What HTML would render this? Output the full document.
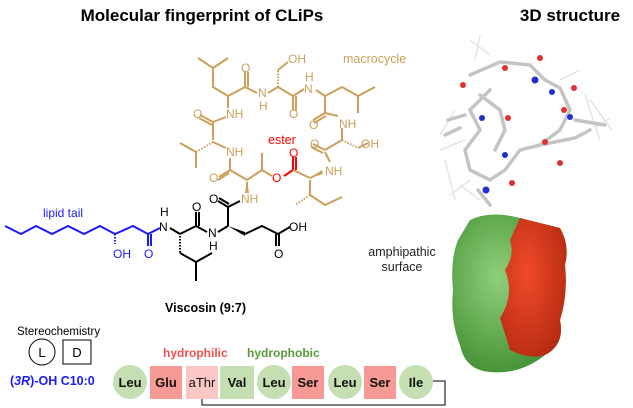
<!DOCTYPE html>
<html><head><meta charset="utf-8"><style>
html,body{margin:0;padding:0;background:#fff;}
svg{display:block;font-family:"Liberation Sans",Arial,sans-serif;}
</style></head><body>
<svg width="633" height="408" viewBox="0 0 633 408">
<defs>
<radialGradient id="g1" cx="40%" cy="40%" r="70%"><stop offset="0" stop-color="#8fd07a"/><stop offset="1" stop-color="#3d8a2e"/></radialGradient>
<radialGradient id="r1" cx="40%" cy="40%" r="70%"><stop offset="0" stop-color="#f04a2a"/><stop offset="1" stop-color="#b42a10"/></radialGradient>
</defs>
<text x="202" y="21" text-anchor="middle" font-size="17" font-weight="bold">Molecular fingerprint of CLiPs</text>
<text x="570" y="21" text-anchor="middle" font-size="17" font-weight="bold">3D structure</text>

<!-- lipid tail blue -->
<g stroke="#1a1aff" stroke-width="2" fill="none">
<polyline points="5,226 21,234 36,226 52,234 68,226 84,234 100,226 115,234 133,226 148,234 160,228"/>
<line x1="148" y1="234" x2="148" y2="246"/><line x1="151" y1="234" x2="151" y2="246"/>
<line x1="115" y1="234" x2="115" y2="244" stroke-dasharray="1.5,1.5"/>
</g>
<g fill="#1a1aff" font-size="12"><text x="113" y="258">OH</text><text x="144" y="258">O</text><text x="43" y="217">lipid tail</text></g>

<!-- black part -->
<g stroke="#000" stroke-width="2" fill="none">
<line x1="170" y1="228" x2="180" y2="234"/>
<line x1="180" y1="234" x2="196" y2="226"/>
<line x1="196" y1="226" x2="196" y2="212"/><line x1="199" y1="226" x2="199" y2="212"/>
<line x1="196" y1="226" x2="207" y2="232"/>
<line x1="180" y1="236" x2="180" y2="253" stroke-dasharray="1.5,1.5"/>
<polyline points="180,253 196,262 212,253"/><line x1="196" y1="262" x2="196" y2="281"/>
<line x1="218" y1="232" x2="228" y2="226"/>
<line x1="228" y1="226" x2="228" y2="207"/>
<line x1="228" y1="207" x2="218" y2="201"/><line x1="229" y1="204" x2="219" y2="198"/>
<line x1="228" y1="207" x2="240" y2="201"/>
<polyline points="245,234 262,226 278,234 290,227"/>
<line x1="276" y1="234" x2="276" y2="246"/><line x1="279" y1="234" x2="279" y2="246"/>
</g>
<polygon points="228,226 245,232 245,236" fill="#000"/>
<g font-size="12" fill="#000"><text x="160" y="216">H</text><text x="159" y="231">N</text>
<text x="192" y="211">O</text><text x="208" y="237">N</text><text x="209" y="250">H</text>
<text x="209" y="203">O</text><text x="289" y="231">OH</text><text x="274" y="258">O</text></g>

<!-- macrocycle tan -->
<g stroke="#cc9f5a" stroke-width="2" fill="none">
<line x1="247" y1="193" x2="247" y2="182"/>
<line x1="247" y1="180" x2="230" y2="170"/>
<line x1="230" y1="170" x2="219" y2="177"/><line x1="229" y1="173" x2="218" y2="180"/>
<line x1="230" y1="170" x2="230" y2="158"/>
<line x1="247" y1="180" x2="262" y2="170"/>
<line x1="262" y1="170" x2="262" y2="153"/>
<line x1="262" y1="170" x2="272" y2="176"/>
<line x1="310" y1="178" x2="322" y2="172"/>
<line x1="310" y1="180" x2="310" y2="195"/>
<line x1="310" y1="195" x2="295" y2="205" stroke-dasharray="1.5,1.5"/>
<polyline points="310,195 325,205 342,197"/>
<line x1="330" y1="162" x2="325" y2="152"/>
<line x1="325" y1="150" x2="313" y2="144"/><line x1="323" y1="153" x2="311" y2="147"/>
<line x1="325" y1="150" x2="342" y2="140"/>
<line x1="342" y1="140" x2="358" y2="148" stroke-dasharray="1.5,1.5"/>
<line x1="358" y1="148" x2="368" y2="143"/>
<line x1="342" y1="140" x2="342" y2="128"/>
<line x1="338" y1="116" x2="325" y2="113"/>
<line x1="325" y1="113" x2="313" y2="120"/><line x1="326" y1="116" x2="314" y2="123"/>
<line x1="325" y1="113" x2="325" y2="96"/>
<polyline points="325,96 342,87 358,96 375,87"/><line x1="358" y1="96" x2="358" y2="113"/>
<line x1="325" y1="96" x2="316" y2="90"/>
<line x1="304" y1="89" x2="293" y2="96"/>
<line x1="293" y1="96" x2="293" y2="110"/><line x1="296" y1="96" x2="296" y2="110"/>
<line x1="293" y1="96" x2="278" y2="87"/>
<line x1="278" y1="87" x2="278" y2="70" stroke-dasharray="1.5,1.5"/>
<line x1="278" y1="70" x2="288" y2="62"/>
<line x1="278" y1="87" x2="268" y2="93"/>
<line x1="257" y1="93" x2="245" y2="87"/>
<line x1="245" y1="87" x2="245" y2="72"/><line x1="248" y1="87" x2="248" y2="72"/>
<line x1="245" y1="87" x2="228" y2="96"/>
<polyline points="228,96 213,87 213,68 198,58"/><line x1="213" y1="68" x2="228" y2="58"/>
<line x1="228" y1="96" x2="228" y2="108"/>
<line x1="226" y1="117" x2="213" y2="122"/>
<line x1="213" y1="122" x2="200" y2="115"/><line x1="212" y1="125" x2="199" y2="118"/>
<line x1="213" y1="122" x2="213" y2="140"/>
<line x1="213" y1="142" x2="196" y2="152" stroke-dasharray="1.5,1.5"/>
<polyline points="180,143 196,152 196,168"/>
<line x1="213" y1="142" x2="226" y2="148"/>
</g>
<polygon points="247,180 245,193 249,193" fill="#cc9f5a"/>
<polygon points="310,178 322,170 323,174" fill="#cc9f5a"/>
<g stroke="#ff0000" stroke-width="2" fill="none">
<line x1="284" y1="176" x2="293" y2="170"/>
<line x1="293" y1="170" x2="293" y2="157"/><line x1="296" y1="170" x2="296" y2="157"/>
<line x1="293" y1="170" x2="310" y2="178" stroke="#cc9f5a"/>
</g>
<g font-size="12" fill="#cc9f5a">
<text x="325" y="175">NH</text><text x="310" y="148">O</text><text x="361" y="148">OH</text>
<text x="339" y="128">NH</text><text x="309" y="129">O</text><text x="305" y="81">H</text><text x="304" y="93">N</text>
<text x="289" y="118">O</text><text x="288" y="63">OH</text><text x="258" y="97">N</text><text x="259" y="110">H</text>
<text x="241" y="72">O</text><text x="226" y="118">NH</text><text x="193" y="118">O</text>
<text x="226" y="156">NH</text><text x="209" y="182">O</text><text x="241" y="203">NH</text>
<text x="343" y="63" font-size="12.5">macrocycle</text></g>
<g fill="#ff0000" font-size="12"><text x="272" y="182">O</text><text x="289" y="157">O</text><text x="268" y="144" font-size="12.5">ester</text></g>

<text x="165" y="312" font-size="12.5" font-weight="bold">Viscosin (9:7)</text>

<!-- stereochemistry -->
<text x="17" y="335" font-size="11.5">Stereochemistry</text>
<circle cx="42" cy="352" r="13" fill="none" stroke="#000" stroke-width="1"/>
<text x="42" y="357" font-size="13" text-anchor="middle">L</text>
<rect x="63" y="340" width="28" height="24" fill="none" stroke="#000" stroke-width="1"/>
<text x="77" y="357" font-size="13" text-anchor="middle">D</text>
<text x="10" y="385" font-size="12.5" font-weight="bold" fill="#1a1aff">(<tspan font-style="italic">3R</tspan>)-OH C10:0</text>
<text x="163" y="357" font-size="12" font-weight="bold" fill="#f05050">hydrophilic</text>
<text x="247" y="357" font-size="12" font-weight="bold" fill="#5a9a3a">hydrophobic</text>

<polyline points="433,381 445,381 445,405 202,405 202,398" fill="none" stroke="#333" stroke-width="1.3"/>
<g font-size="13" font-weight="bold" text-anchor="middle" fill="#111">
<circle cx="130" cy="382" r="17" fill="#c6dfb2"/><text x="130" y="387">Leu</text>
<rect x="150" y="366" width="32" height="33" fill="#f79a96"/><text x="166" y="387">Glu</text>
<rect x="186" y="366" width="32" height="33" fill="#fbc8c6"/><text x="202" y="387" font-weight="normal">aThr</text>
<rect x="220" y="366" width="34" height="33" fill="#c6dfb2"/><text x="237" y="387">Val</text>
<circle cx="274" cy="382" r="17" fill="#c6dfb2"/><text x="274" y="387">Leu</text>
<rect x="292" y="366" width="32" height="33" fill="#f79a96"/><text x="308" y="387">Ser</text>
<circle cx="345" cy="382" r="17" fill="#c6dfb2"/><text x="345" y="387">Leu</text>
<rect x="364" y="366" width="32" height="33" fill="#f79a96"/><text x="380" y="387">Ser</text>
<circle cx="416" cy="382" r="17" fill="#c6dfb2"/><text x="416" y="387">Ile</text>
</g>

<!-- 3D sticks -->
<g stroke="#e4e4e4" stroke-width="1.5" fill="none">
<path d="M470,40 L490,55 M480,35 L475,60 M455,110 L440,135 M590,100 L612,130 M445,160 L455,200 M460,185 L480,200 M595,128 L610,118 M585,95 L600,140 M440,150 L465,140 M450,195 L470,180 M560,80 L580,70"/>
</g>
<g stroke="#c4c4c4" stroke-width="3.5" fill="none" stroke-linecap="round">
<path d="M470,75 L500,62 L530,65 L545,80 L560,88 L570,110 L560,130 L540,145 L520,150 L505,170 L490,180 L470,170 L465,150 L480,130 L470,110 L490,90"/>
<path d="M480,95 L500,110 L505,130 L495,150"/>
<path d="M540,145 L575,138 L590,130"/>
<path d="M448,120 L465,115 M445,135 L460,128 M575,120 L605,125 M478,190 L490,205"/>
</g>
<g fill="#e03030"><circle cx="505" cy="68" r="3"/><circle cx="540" cy="58" r="3"/><circle cx="574" cy="88" r="3"/><circle cx="564" cy="110" r="3"/><circle cx="463" cy="85" r="3"/><circle cx="560" cy="163" r="3"/><circle cx="508" cy="118" r="3"/><circle cx="512" cy="183" r="3"/><circle cx="545" cy="142" r="3"/></g>
<g fill="#2030d0"><circle cx="535" cy="80" r="3.5"/><circle cx="552" cy="92" r="3"/><circle cx="570" cy="117" r="3"/><circle cx="482" cy="118" r="3"/><circle cx="505" cy="155" r="3"/><circle cx="486" cy="190" r="3.5"/></g>

<!-- surface -->
<path d="M470,220 Q490,210 520,218 L560,228 Q570,245 565,265 Q568,295 560,320 Q565,345 545,355 Q520,375 490,372 Q465,370 460,345 Q450,320 453,290 Q450,260 458,240 Z" fill="url(#g1)"/>
<path d="M520,218 L560,228 Q570,245 565,265 Q568,295 560,320 Q565,345 545,355 Q530,360 510,350 L500,318 Q515,295 505,270 Q515,255 510,240 Z" fill="url(#r1)"/>

<text x="402" y="256" font-size="12.5" fill="#222" text-anchor="middle">amphipathic</text>
<text x="402" y="271" font-size="12.5" fill="#222" text-anchor="middle">surface</text>
</svg>
</body></html>
